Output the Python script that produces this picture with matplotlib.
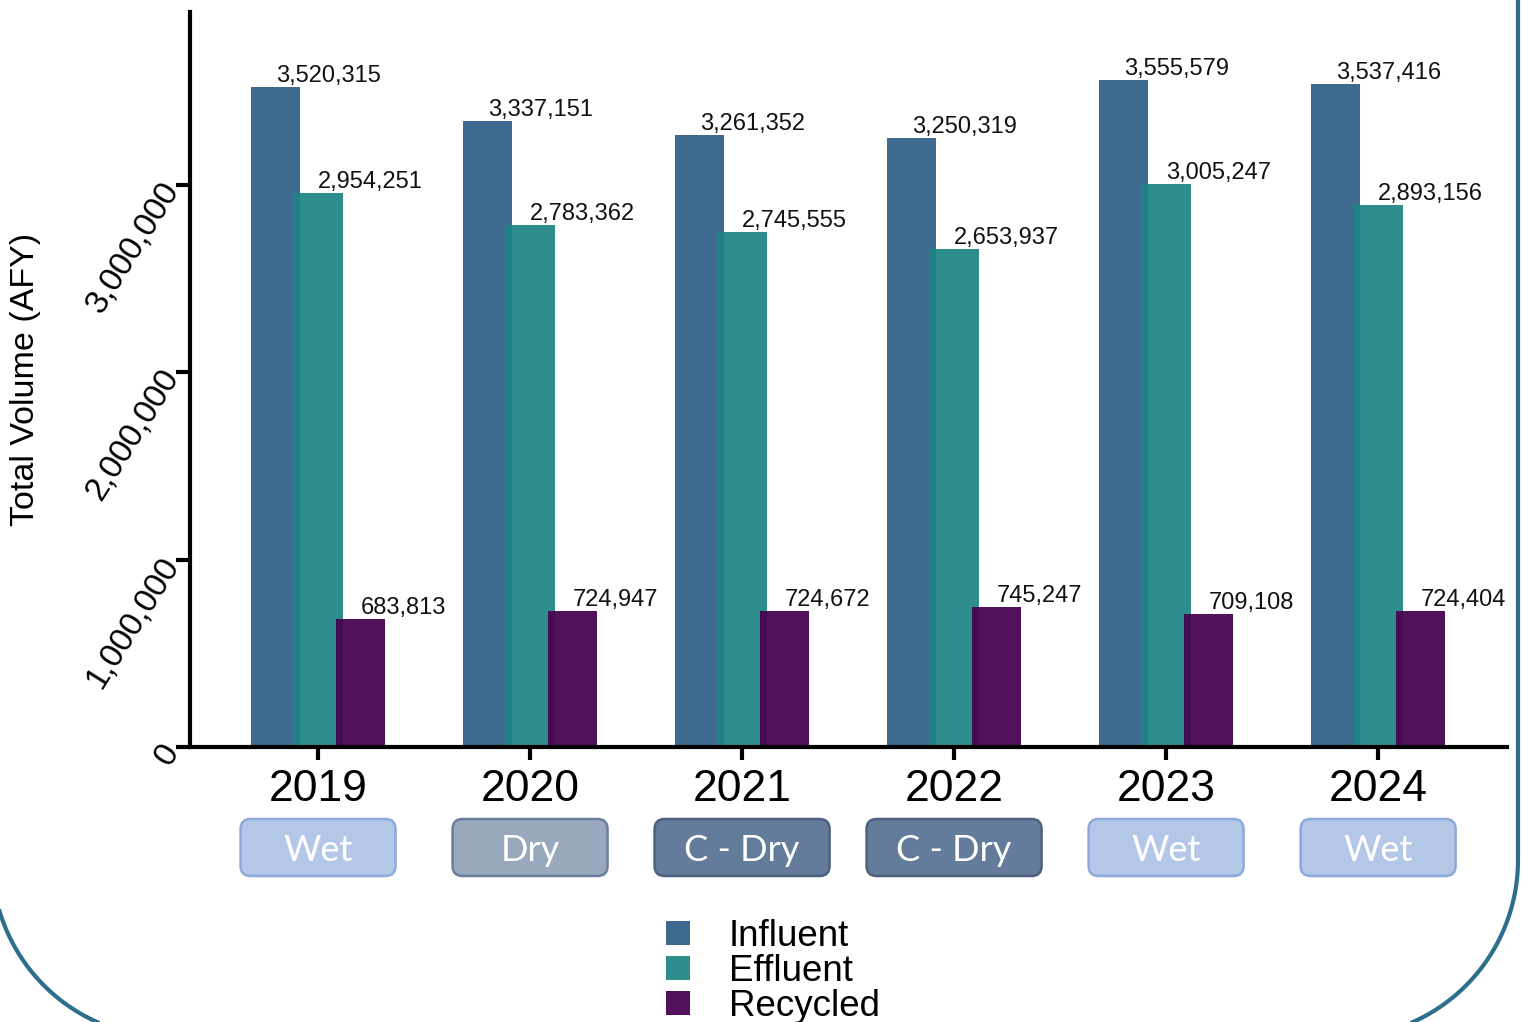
import matplotlib
matplotlib.use("Agg")
import numpy as np
import matplotlib.pyplot as plt
from matplotlib.patches import FancyBboxPatch, Patch
from matplotlib.lines import Line2D
from matplotlib.transforms import IdentityTransform
from matplotlib.ticker import FuncFormatter

plt.rcParams['font.family'] = ['Liberation Sans', 'DejaVu Sans']

# ---- data ----
years = ["2019", "2020", "2021", "2022", "2023", "2024"]
year_types = ["Wet", "Dry", "C - Dry", "C - Dry", "Wet", "Wet"]
series_names = ["Influent", "Effluent", "Recycled"]
influent = [3520315, 3337151, 3261352, 3250319, 3555579, 3537416]
effluent = [2954251, 2783362, 2745555, 2653937, 3005247, 2893156]
recycled = [683813, 724947, 724672, 745247, 709108, 724404]
y_ticks = [0, 1000000, 2000000, 3000000]

# ---- style ----
series_colors = ["#3e6a90", "#1c8585", "#470552"]
series_alpha = [1.0, 0.92, 0.95]
type_style = {
    "Wet": ("#b4c7e7", "#8eaadb", 155),
    "Dry": ("#98a8bd", "#6a7f9e", 155),
    "C - Dry": ("#647b9b", "#4e6080", 175),
}

W, H = 1522, 1022
fig = plt.figure(figsize=(W / 100, H / 100), dpi=100)
ax = fig.add_axes([190 / W, 1 - 747 / H, (1507 - 190) / W, (747 - 12) / H])

xs = list(range(len(years)))
offsets = [-0.2, 0.0, 0.2]
bar_w = 0.232
for vals, off, col, a in zip([influent, effluent, recycled], offsets, series_colors, series_alpha):
    pos = [x + off for x in xs]
    ax.bar(pos, vals, width=bar_w, color=col, alpha=a, linewidth=0, zorder=2)
    for p, v in zip(pos, vals):
        ax.text(p, v, f"{v:,}", ha="left", va="bottom", fontsize=17, color="#111111", zorder=3)

ax.set_xlim(-0.604, 5.608)
ax.set_ylim(0, 3920000)
ax.set_xticks(xs)
ax.set_xticklabels(years, fontsize=32)
ax.set_yticks(y_ticks)
ax.yaxis.set_major_formatter(FuncFormatter(lambda v, p: f"{int(v):,}"))
for lab in ax.get_yticklabels():
    lab.set_rotation(58)
    lab.set_ha("right")
    lab.set_va("center")
    lab.set_rotation_mode("anchor")
    lab.set_fontsize(24)
ax.tick_params(axis="y", length=10, width=3, pad=3)
ax.tick_params(axis="x", length=9, width=3, pad=7)
for s in ["top", "right"]:
    ax.spines[s].set_visible(False)
for s in ["left", "bottom"]:
    ax.spines[s].set_linewidth(3)

fig.text(26 / W, 1 - 379 / H, "Total Volume (AFY)", rotation=90, ha="center", va="center", fontsize=24.5)

# ---- year type boxes ----
fig.canvas.draw()
for x, t in zip(xs, year_types):
    fc, ec, bw = type_style[t]
    cx = ax.transData.transform((x, 0))[0]
    y0 = H - 876
    bh = 57
    box = FancyBboxPatch((cx - bw / 2, y0), bw, bh, boxstyle="round,pad=0,rounding_size=10",
                         transform=IdentityTransform(), facecolor=fc, edgecolor=ec, linewidth=1.8,
                         clip_on=False)
    fig.add_artist(box)
    fig.text(cx, y0 + bh / 2 - 3, t, transform=IdentityTransform(), ha="center", va="center",
             color="white", fontsize=26, family=["Lato", "DejaVu Sans"])

# ---- legend ----
handles = [Patch(facecolor=c, edgecolor="none", alpha=a) for c, a in zip(series_colors, series_alpha)]
fig.legend(handles, series_names, loc="upper left", bbox_to_anchor=(666 / W, 1 - 919 / H),
           frameon=False, fontsize=26.5, handlelength=0.66, handleheight=0.66, handletextpad=1.05,
           labelspacing=0.0, borderpad=0, borderaxespad=0)

# ---- outer rounded frame (display pixel coords, y from bottom) ----
R = 177.5
x_left, x_right = -8.0, 1518.0
cy = H - 860.0
th_r = np.linspace(0, -np.pi / 2, 60)
th_l = np.linspace(-np.pi / 2, -np.pi, 60)
fx = np.concatenate([[x_right], x_right - R + R * np.cos(th_r), x_left + R + R * np.cos(th_l), [x_left]])
fy = np.concatenate([[H + 20], cy + R * np.sin(th_r), cy + R * np.sin(th_l), [H + 20]])
frame = Line2D(fx, fy, transform=IdentityTransform(), color="#2c6e8c", linewidth=3,
               solid_capstyle="butt", clip_on=False)
fig.add_artist(frame)

fig.savefig("out.png", dpi=100)
